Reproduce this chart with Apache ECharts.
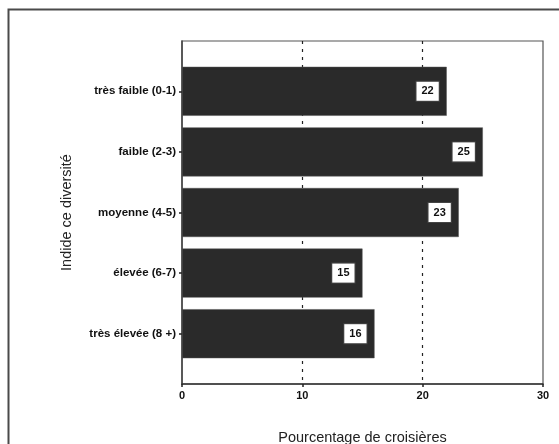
<!DOCTYPE html>
<html>
<head>
<meta charset="utf-8">
<style>
  html, body { margin: 0; padding: 0; background: #fff; }
  #chart { width: 559px; height: 444px; }
</style>
<script src="https://cdn.jsdelivr.net/npm/echarts@6/dist/echarts.min.js"></script>
</head>
<body>
<div id="chart"></div>
<script>
// Diversity index classes (top to bottom) and share of cruises (%)
const categories = ['très faible (0-1)', 'faible (2-3)', 'moyenne (4-5)', 'élevée (6-7)', 'très élevée (8 +)'];
const percentages = [22, 25, 23, 15, 16];
const xTicks = [0, 10, 20, 30];

const FONT = "'Liberation Sans', Arial, Helvetica, sans-serif";
const chart = echarts.init(document.getElementById('chart'), null, { renderer: 'canvas' });

chart.setOption({
  animation: false,
  backgroundColor: '#ffffff',
  graphic: [{
    type: 'rect',
    shape: { x: 8.5, y: 9.5, width: 620, height: 520 },
    style: { fill: 'none', stroke: '#4a4a4a', lineWidth: 2 },
    silent: true
  }],
  grid: [
    // plot frame with the percentage axis
    { left: 182, right: 16, top: 41, bottom: 60, outerBoundsMode: 'none', containLabel: false,
      show: true, borderColor: '#555', borderWidth: 1.2, backgroundColor: 'transparent' },
    // band area holding the bars
    { left: 182, right: 16, top: 61, bottom: 80, outerBoundsMode: 'none', containLabel: false }
  ],
  xAxis: [
    {
      gridIndex: 0, type: 'value', min: xTicks[0], max: xTicks[xTicks.length - 1], interval: 10,
      name: 'Pourcentage de croisières', nameLocation: 'middle', nameGap: 46,
      nameTextStyle: { fontFamily: FONT, fontSize: 14.5, color: '#222' },
      axisLine: { show: true, lineStyle: { color: '#333', width: 1.5 } },
      axisTick: { show: true, length: 3, lineStyle: { color: '#222', width: 1.5 } },
      axisLabel: { fontFamily: FONT, fontSize: 11, color: '#111', margin: 6, fontWeight: 'bold' },
      splitLine: { show: true, showMinLine: false, showMaxLine: false, lineStyle: { color: '#222', width: 1.2, type: [3, 5] } }
    },
    { gridIndex: 1, type: 'value', min: 0, max: 30, show: false }
  ],
  yAxis: [
    {
      gridIndex: 0, type: 'value', min: 0, max: 1,
      axisLine: { show: true, lineStyle: { color: '#444', width: 1.5 } },
      axisTick: { show: false }, axisLabel: { show: false }, splitLine: { show: false }
    },
    {
      gridIndex: 1, type: 'category', data: categories, inverse: true,
      name: 'Indide ce diversité', nameLocation: 'middle', nameGap: 108, nameRotate: 90,
      nameTextStyle: { fontFamily: FONT, fontSize: 14.5, color: '#222' },
      axisLine: { show: false },
      axisTick: { show: true, alignWithLabel: true, length: 3, lineStyle: { color: '#222', width: 1.5 } },
      axisLabel: { fontFamily: FONT, fontSize: 11.5, fontWeight: 'bold', color: '#111', margin: 6 },
      splitLine: { show: false }
    }
  ],
  series: [{
    type: 'bar',
    xAxisIndex: 1,
    yAxisIndex: 1,
    data: percentages,
    barWidth: 49,
    itemStyle: { color: '#2a2a2a', borderColor: '#555', borderWidth: 0.5 },
    label: {
      show: true,
      position: 'insideRight',
      distance: 8,
      fontFamily: FONT,
      fontSize: 11,
      fontWeight: 'bold',
      color: '#111',
      backgroundColor: '#ffffff',
      borderColor: '#444',
      borderWidth: 1,
      padding: [4, 5, 4, 5]
    }
  }]
});
</script>
</body>
</html>
